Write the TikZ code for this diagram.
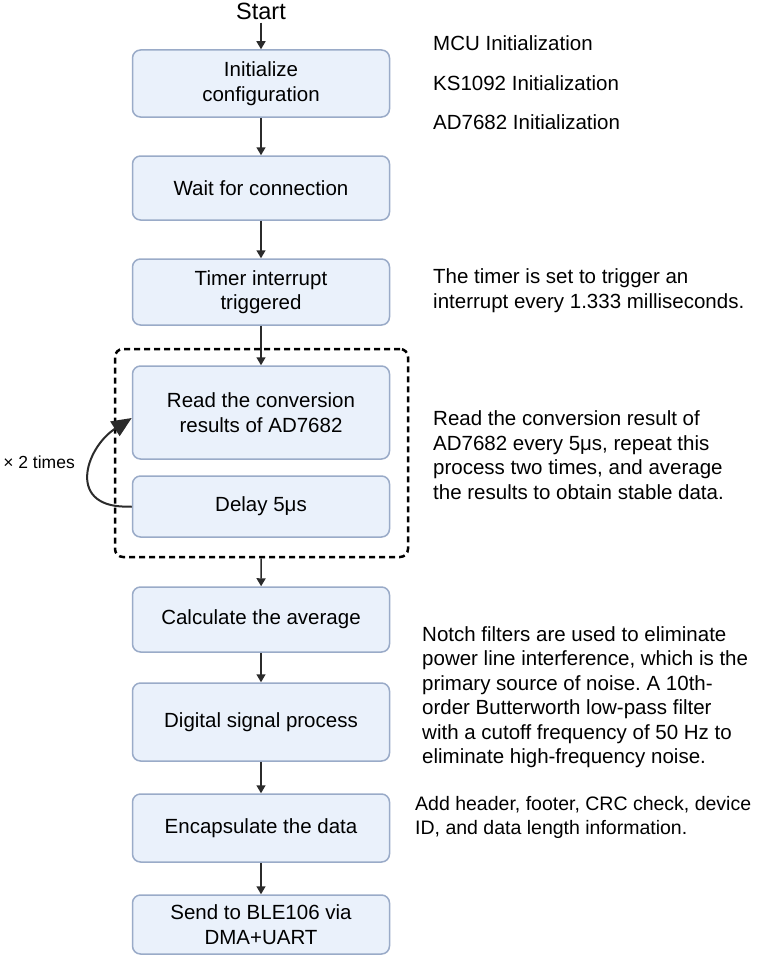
\documentclass[tikz,border=0pt]{standalone}
\usepackage{fontspec}
\setmainfont{Liberation Sans}
\usetikzlibrary{arrows.meta}
\definecolor{boxfill}{HTML}{EAF1FB}
\definecolor{boxline}{HTML}{9AABC8}
\definecolor{arrowcol}{HTML}{2B2B2B}
\tikzset{
  stepbox/.style={draw=boxline, fill=boxfill, line width=1.5pt, rounded corners=8pt,
    minimum width=257pt, align=center, inner sep=0pt},
  note/.style={anchor=west, align=left, inner sep=0pt},
  flow/.style={draw=arrowcol, line width=1.5pt, -{Triangle[length=8pt,width=9pt]}}
}
\frenchspacing
\begin{document}
\begin{tikzpicture}[x=1pt,y=-1pt,font=\fontsize{20.5}{24.5}\selectfont]
  \useasboundingbox (0,0) rectangle (764,966);
  \node[font=\fontsize{23.5}{28}\selectfont, inner sep=0pt] (start) at (261,11) {Start};
  \node[stepbox, minimum height=67pt] (init) at (261,83.5) {Initialize\\configuration};
  \node[stepbox, minimum height=64pt] (wait) at (261,188) {Wait for connection};
  \node[stepbox, minimum height=66pt] (timer) at (261,292) {Timer interrupt\\triggered};
  \node[draw=black, line width=2.5pt, dash pattern=on 6pt off 4pt, rounded corners=8pt,
    minimum width=293pt, minimum height=208pt, inner sep=0pt] (loop) at (261.5,453) {};
  \node[stepbox, minimum height=93pt] (read) at (261,412.5) {Read the conversion\\results of AD7682};
  \node[stepbox, minimum height=61pt] (delay) at (261,506.5) {Delay 5μs};
  \node[stepbox, minimum height=65pt] (avg) at (261,619.5) {Calculate the average};
  \node[stepbox, minimum height=78pt] (dsp) at (261,722) {Digital signal process};
  \node[stepbox, minimum height=68pt] (pack) at (261,828) {Encapsulate the data};
  \node[stepbox, minimum height=59pt] (send) at (261,924.5) {Send to BLE106 via\\DMA+UART};

  \draw[flow] ([yshift=-3pt]start.south) -- (init);
  \draw[flow] (init) -- (wait);
  \draw[flow] (wait) -- (timer);
  \draw[flow] (timer) -- (read);
  \draw[flow] (loop) -- (avg);
  \draw[flow] (avg) -- (dsp);
  \draw[flow] (dsp) -- (pack);
  \draw[flow] (pack) -- (send);

  \coordinate (back) at ([yshift=-5.5pt]read.west);
  \draw[draw=arrowcol, line width=2pt, -{Triangle[length=20pt,width=17pt]}]
    (delay.west) .. controls (65,510) and (85,448) .. (back);
  \node[anchor=east, inner sep=0pt, font=\fontsize{17.5}{21}\selectfont] (times) at (75,462) {× 2 times};

  \foreach \lbl/\y in {MCU/43, KS1092/83, AD7682/122}
    \node[note] (init\lbl) at (433,\y) {\lbl\ Initialization};
  \node[note] (timernote) at (433,290.5) {The timer is set to trigger an\\interrupt every 1.333 milliseconds.};
  \node[note] (readnote) at (433,455) {Read the conversion result of\\AD7682 every 5μs, repeat this\\process two times, and average\\the results to obtain stable data.};
  \node[note] (dspnote) at (422,697) {Notch filters are used to eliminate\\power line interference, which is the\\primary source of noise. A 10th-\\order Butterworth low-pass filter\\with a cutoff frequency of 50 Hz to\\eliminate high-frequency noise.};
  \node[note, font=\fontsize{19.5}{24}\selectfont] (packnote) at (415,817) {Add header, footer, CRC check, device\\ID, and data length information.};
\end{tikzpicture}
\end{document}
